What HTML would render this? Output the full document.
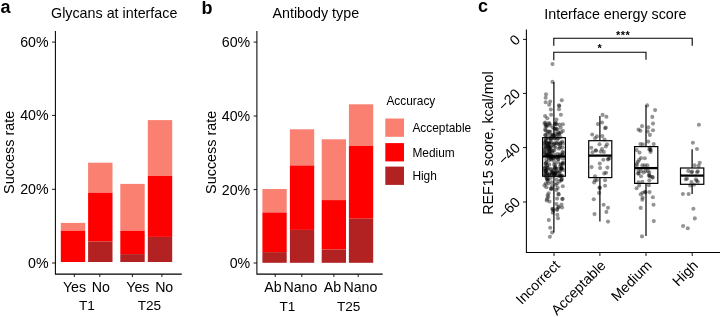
<!DOCTYPE html><html><head><meta charset="utf-8"><title>Figure</title>
<style>html,body{margin:0;padding:0;background:#fff}svg{display:block;will-change:transform}text{font-family:"Liberation Sans",Arial,Helvetica,sans-serif;fill:#000}.t{font-size:14.2px}.ti{font-size:14.3px}.ax{font-size:14.4px}.lg{font-size:11.9px}.st{font-size:13.6px}.pl{font-size:18px;font-weight:bold}.ln{stroke:#000;fill:none}</style></head><body>
<svg width="720" height="317" viewBox="0 0 720 317">
<rect width="720" height="317" fill="#fff"/>
<rect x="60.8" y="222.9" width="24.4" height="7.8" fill="#FA8072"/>
<rect x="60.8" y="230.7" width="24.4" height="31.3" fill="#FF0000"/>
<rect x="88.1" y="162.7" width="24.4" height="30.0" fill="#FA8072"/>
<rect x="88.1" y="192.7" width="24.4" height="48.9" fill="#FF0000"/>
<rect x="88.1" y="241.6" width="24.4" height="20.4" fill="#B22222"/>
<rect x="120.3" y="183.9" width="24.4" height="46.8" fill="#FA8072"/>
<rect x="120.3" y="230.7" width="24.4" height="23.4" fill="#FF0000"/>
<rect x="120.3" y="254.1" width="24.4" height="7.9" fill="#B22222"/>
<rect x="147.8" y="120.1" width="24.4" height="55.9" fill="#FA8072"/>
<rect x="147.8" y="176.0" width="24.4" height="60.9" fill="#FF0000"/>
<rect x="147.8" y="236.9" width="24.4" height="25.1" fill="#B22222"/>
<path class="ln" stroke-width="1.05" d="M55.4 31V274.1H181.8"/>
<path class="ln" stroke-width="0.9" d="M52 42.1H55.4"/>
<path class="ln" stroke-width="0.9" d="M52 115.4H55.4"/>
<path class="ln" stroke-width="0.9" d="M52 189.3H55.4"/>
<path class="ln" stroke-width="0.9" d="M52 263.0H55.4"/>
<path class="ln" stroke-width="0.9" d="M74.3 274V277"/>
<path class="ln" stroke-width="0.9" d="M99.8 274V277"/>
<path class="ln" stroke-width="0.9" d="M132.4 274V277"/>
<path class="ln" stroke-width="0.9" d="M161.9 274V277"/>
<text class="t" x="48.6" y="47.0" text-anchor="end">60%</text>
<text class="t" x="48.6" y="120.3" text-anchor="end">40%</text>
<text class="t" x="48.6" y="194.2" text-anchor="end">20%</text>
<text class="t" x="48.6" y="267.9" text-anchor="end">0%</text>
<text class="t" x="74.5" y="291.8" text-anchor="middle">Yes</text>
<text class="t" x="100.8" y="291.8" text-anchor="middle">No</text>
<text class="t" x="137.8" y="291.8" text-anchor="middle">Yes</text>
<text class="t" x="164.2" y="291.8" text-anchor="middle">No</text>
<text class="st" x="87" y="309.8" text-anchor="middle">T1</text>
<text class="st" x="149.4" y="309.8" text-anchor="middle">T25</text>
<text class="ax" transform="translate(13.9 152.3) rotate(-90)" text-anchor="middle">Success rate</text>
<text class="ti" x="114.2" y="17.9" text-anchor="middle">Glycans at interface</text>
<text class="pl" x="0.5" y="12.5">a</text>
<rect x="262.4" y="189.0" width="24.3" height="23.5" fill="#FA8072"/>
<rect x="262.4" y="212.5" width="24.3" height="39.6" fill="#FF0000"/>
<rect x="262.4" y="252.1" width="24.3" height="10.7" fill="#B22222"/>
<rect x="289.9" y="129.3" width="24.3" height="36.2" fill="#FA8072"/>
<rect x="289.9" y="165.5" width="24.3" height="64.4" fill="#FF0000"/>
<rect x="289.9" y="229.9" width="24.3" height="32.9" fill="#B22222"/>
<rect x="321.7" y="139.3" width="24.3" height="60.8" fill="#FA8072"/>
<rect x="321.7" y="200.1" width="24.3" height="49.5" fill="#FF0000"/>
<rect x="321.7" y="249.6" width="24.3" height="13.2" fill="#B22222"/>
<rect x="348.9" y="104.3" width="24.3" height="41.7" fill="#FA8072"/>
<rect x="348.9" y="146.0" width="24.3" height="72.7" fill="#FF0000"/>
<rect x="348.9" y="218.7" width="24.3" height="44.1" fill="#B22222"/>
<path class="ln" stroke-width="1.05" d="M256.9 31V274.1H382.7"/>
<path class="ln" stroke-width="0.9" d="M253.6 42.1H256.9"/>
<path class="ln" stroke-width="0.9" d="M253.6 116.0H256.9"/>
<path class="ln" stroke-width="0.9" d="M253.6 189.6H256.9"/>
<path class="ln" stroke-width="0.9" d="M253.6 263.0H256.9"/>
<path class="ln" stroke-width="0.9" d="M275.2 274V277"/>
<path class="ln" stroke-width="0.9" d="M301.8 274V277"/>
<path class="ln" stroke-width="0.9" d="M333.9 274V277"/>
<path class="ln" stroke-width="0.9" d="M358.2 274V277"/>
<text class="t" x="250.2" y="47.0" text-anchor="end">60%</text>
<text class="t" x="250.2" y="120.9" text-anchor="end">40%</text>
<text class="t" x="250.2" y="194.5" text-anchor="end">20%</text>
<text class="t" x="250.2" y="267.9" text-anchor="end">0%</text>
<text class="t" x="273.0" y="291.8" text-anchor="middle">Ab</text>
<text class="t" x="300.4" y="291.8" text-anchor="middle">Nano</text>
<text class="t" x="332.4" y="291.8" text-anchor="middle">Ab</text>
<text class="t" x="360.4" y="291.8" text-anchor="middle">Nano</text>
<text class="st" x="287.4" y="311.2" text-anchor="middle">T1</text>
<text class="st" x="348.6" y="311.2" text-anchor="middle">T25</text>
<text class="ax" transform="translate(216 152.3) rotate(-90)" text-anchor="middle">Success rate</text>
<text class="ti" x="315.8" y="17.8" text-anchor="middle">Antibody type</text>
<text class="pl" x="201.5" y="14.2">b</text>
<text class="lg" x="386.4" y="104.6">Accuracy</text>
<rect x="385.3" y="118.5" width="18.7" height="18.3" fill="#FA8072"/>
<text class="lg" x="412.4" y="131.8">Acceptable</text>
<rect x="385.3" y="143.1" width="18.7" height="18.3" fill="#FF0000"/>
<text class="lg" x="412.4" y="156.6">Medium</text>
<rect x="385.3" y="166.6" width="18.7" height="18.3" fill="#B22222"/>
<text class="lg" x="412.4" y="180.0">High</text>
<g fill="#000" fill-opacity="0.42">
<circle cx="552.5" cy="64.1" r="2.05"/>
<circle cx="552.5" cy="81.9" r="2.05"/>
<circle cx="546.0" cy="94.3" r="2.05"/>
<circle cx="545.7" cy="97.8" r="2.05"/>
<circle cx="545.7" cy="102.2" r="2.05"/>
<circle cx="550.2" cy="101.6" r="2.05"/>
<circle cx="549.2" cy="104.7" r="2.05"/>
<circle cx="561.8" cy="100.3" r="2.05"/>
<circle cx="559.0" cy="105.4" r="2.05"/>
<circle cx="559.3" cy="106.0" r="2.05"/>
<circle cx="550.8" cy="109.5" r="2.05"/>
<circle cx="559.0" cy="109.2" r="2.05"/>
<circle cx="551.1" cy="114.8" r="2.05"/>
<circle cx="560.9" cy="114.7" r="2.05"/>
<circle cx="545.1" cy="116.1" r="2.05"/>
<circle cx="547.3" cy="118.3" r="2.05"/>
<circle cx="556.5" cy="119.6" r="2.05"/>
<circle cx="544.5" cy="123.4" r="2.05"/>
<circle cx="545.4" cy="122.5" r="2.05"/>
<circle cx="548.9" cy="123.0" r="2.05"/>
<circle cx="549.5" cy="123.7" r="2.05"/>
<circle cx="555.8" cy="122.7" r="2.05"/>
<circle cx="555.5" cy="123.7" r="2.05"/>
<circle cx="559.6" cy="124.6" r="2.05"/>
<circle cx="547.0" cy="178.7" r="2.05"/>
<circle cx="547.3" cy="179.4" r="2.05"/>
<circle cx="546.7" cy="178.1" r="2.05"/>
<circle cx="561.5" cy="179.7" r="2.05"/>
<circle cx="561.2" cy="180.3" r="2.05"/>
<circle cx="561.8" cy="179.1" r="2.05"/>
<circle cx="550.8" cy="177.8" r="2.05"/>
<circle cx="556.5" cy="179.7" r="2.05"/>
<circle cx="544.5" cy="185.4" r="2.05"/>
<circle cx="562.8" cy="186.3" r="2.05"/>
<circle cx="548.3" cy="183.5" r="2.05"/>
<circle cx="551.4" cy="182.2" r="2.05"/>
<circle cx="557.1" cy="183.5" r="2.05"/>
<circle cx="550.8" cy="188.5" r="2.05"/>
<circle cx="551.1" cy="189.2" r="2.05"/>
<circle cx="557.7" cy="187.9" r="2.05"/>
<circle cx="555.8" cy="184.7" r="2.05"/>
<circle cx="548.6" cy="193.3" r="2.05"/>
<circle cx="547.6" cy="195.2" r="2.05"/>
<circle cx="548.3" cy="197.1" r="2.05"/>
<circle cx="547.0" cy="198.9" r="2.05"/>
<circle cx="546.7" cy="200.5" r="2.05"/>
<circle cx="549.5" cy="201.5" r="2.05"/>
<circle cx="558.4" cy="193.9" r="2.05"/>
<circle cx="558.7" cy="194.4" r="2.05"/>
<circle cx="557.1" cy="198.6" r="2.05"/>
<circle cx="562.6" cy="198.8" r="2.05"/>
<circle cx="562.3" cy="199.1" r="2.05"/>
<circle cx="556.5" cy="204.0" r="2.05"/>
<circle cx="561.5" cy="204.6" r="2.05"/>
<circle cx="558.4" cy="206.8" r="2.05"/>
<circle cx="558.7" cy="207.2" r="2.05"/>
<circle cx="562.1" cy="207.5" r="2.05"/>
<circle cx="557.1" cy="209.0" r="2.05"/>
<circle cx="552.4" cy="208.7" r="2.05"/>
<circle cx="552.7" cy="209.2" r="2.05"/>
<circle cx="553.3" cy="210.6" r="2.05"/>
<circle cx="552.7" cy="212.8" r="2.05"/>
<circle cx="557.4" cy="214.7" r="2.05"/>
<circle cx="558.0" cy="218.2" r="2.05"/>
<circle cx="548.8" cy="220.1" r="2.05"/>
<circle cx="550.2" cy="227.7" r="2.05"/>
<circle cx="557.1" cy="210.0" r="2.05"/>
<circle cx="552.1" cy="232.6" r="2.05"/>
<circle cx="549.9" cy="236.7" r="2.05"/>
<circle cx="550.6" cy="125.6" r="2.05"/>
<circle cx="556.7" cy="124.5" r="2.05"/>
<circle cx="554.6" cy="128.6" r="2.05"/>
<circle cx="545.6" cy="130.6" r="2.05"/>
<circle cx="545.2" cy="129.6" r="2.05"/>
<circle cx="545.8" cy="124.8" r="2.05"/>
<circle cx="552.5" cy="135.1" r="2.05"/>
<circle cx="546.8" cy="126.6" r="2.05"/>
<circle cx="556.3" cy="136.8" r="2.05"/>
<circle cx="555.3" cy="129.1" r="2.05"/>
<circle cx="562.9" cy="124.2" r="2.05"/>
<circle cx="560.6" cy="127.6" r="2.05"/>
<circle cx="547.2" cy="125.1" r="2.05"/>
<circle cx="550.3" cy="134.9" r="2.05"/>
<circle cx="547.9" cy="131.6" r="2.05"/>
<circle cx="556.5" cy="128.7" r="2.05"/>
<circle cx="554.8" cy="124.4" r="2.05"/>
<circle cx="545.6" cy="126.4" r="2.05"/>
<circle cx="557.3" cy="129.5" r="2.05"/>
<circle cx="550.4" cy="131.7" r="2.05"/>
<circle cx="553.0" cy="127.7" r="2.05"/>
<circle cx="559.4" cy="133.3" r="2.05"/>
<circle cx="549.1" cy="131.5" r="2.05"/>
<circle cx="554.4" cy="135.8" r="2.05"/>
<circle cx="558.2" cy="132.2" r="2.05"/>
<circle cx="562.9" cy="130.9" r="2.05"/>
<circle cx="552.4" cy="135.7" r="2.05"/>
<circle cx="547.4" cy="133.7" r="2.05"/>
<circle cx="545.2" cy="135.0" r="2.05"/>
<circle cx="558.9" cy="134.3" r="2.05"/>
<circle cx="561.0" cy="132.4" r="2.05"/>
<circle cx="557.6" cy="134.5" r="2.05"/>
<circle cx="555.4" cy="133.4" r="2.05"/>
<circle cx="560.3" cy="137.1" r="2.05"/>
<circle cx="553.4" cy="135.0" r="2.05"/>
<circle cx="545.6" cy="135.3" r="2.05"/>
<circle cx="556.4" cy="189.9" r="2.05"/>
<circle cx="559.4" cy="181.4" r="2.05"/>
<circle cx="552.0" cy="186.0" r="2.05"/>
<circle cx="545.8" cy="183.5" r="2.05"/>
<circle cx="548.3" cy="179.4" r="2.05"/>
<circle cx="546.4" cy="187.2" r="2.05"/>
<circle cx="547.6" cy="181.0" r="2.05"/>
<circle cx="552.0" cy="188.5" r="2.05"/>
<circle cx="545.8" cy="155.0" r="2.05"/>
<circle cx="554.8" cy="172.0" r="2.05"/>
<circle cx="560.0" cy="171.2" r="2.05"/>
<circle cx="549.6" cy="153.7" r="2.05"/>
<circle cx="551.2" cy="172.0" r="2.05"/>
<circle cx="562.7" cy="143.4" r="2.05"/>
<circle cx="547.7" cy="146.5" r="2.05"/>
<circle cx="548.8" cy="156.4" r="2.05"/>
<circle cx="555.6" cy="147.7" r="2.05"/>
<circle cx="544.4" cy="153.8" r="2.05"/>
<circle cx="551.4" cy="159.6" r="2.05"/>
<circle cx="562.6" cy="164.4" r="2.05"/>
<circle cx="554.2" cy="161.6" r="2.05"/>
<circle cx="557.3" cy="139.6" r="2.05"/>
<circle cx="561.6" cy="167.9" r="2.05"/>
<circle cx="561.1" cy="168.6" r="2.05"/>
<circle cx="551.8" cy="153.1" r="2.05"/>
<circle cx="546.3" cy="162.2" r="2.05"/>
<circle cx="545.5" cy="140.1" r="2.05"/>
<circle cx="548.3" cy="143.8" r="2.05"/>
<circle cx="550.8" cy="139.6" r="2.05"/>
<circle cx="544.3" cy="143.4" r="2.05"/>
<circle cx="546.2" cy="151.7" r="2.05"/>
<circle cx="544.8" cy="171.6" r="2.05"/>
<circle cx="556.1" cy="143.3" r="2.05"/>
<circle cx="549.1" cy="151.0" r="2.05"/>
<circle cx="551.3" cy="142.3" r="2.05"/>
<circle cx="560.6" cy="176.2" r="2.05"/>
<circle cx="553.2" cy="156.4" r="2.05"/>
<circle cx="545.9" cy="141.5" r="2.05"/>
<circle cx="550.9" cy="147.8" r="2.05"/>
<circle cx="560.2" cy="143.8" r="2.05"/>
<circle cx="544.7" cy="174.6" r="2.05"/>
<circle cx="554.4" cy="143.2" r="2.05"/>
<circle cx="554.7" cy="138.6" r="2.05"/>
<circle cx="554.4" cy="175.7" r="2.05"/>
<circle cx="560.9" cy="164.7" r="2.05"/>
<circle cx="549.3" cy="151.8" r="2.05"/>
<circle cx="547.5" cy="167.6" r="2.05"/>
<circle cx="554.5" cy="167.9" r="2.05"/>
<circle cx="550.6" cy="146.2" r="2.05"/>
<circle cx="559.9" cy="175.9" r="2.05"/>
<circle cx="560.7" cy="168.9" r="2.05"/>
<circle cx="560.0" cy="166.4" r="2.05"/>
<circle cx="548.7" cy="157.7" r="2.05"/>
<circle cx="551.1" cy="138.6" r="2.05"/>
<circle cx="544.8" cy="148.4" r="2.05"/>
<circle cx="549.3" cy="164.5" r="2.05"/>
<circle cx="562.7" cy="154.9" r="2.05"/>
<circle cx="562.3" cy="176.0" r="2.05"/>
<circle cx="562.6" cy="151.7" r="2.05"/>
<circle cx="548.5" cy="146.3" r="2.05"/>
<circle cx="548.1" cy="145.5" r="2.05"/>
<circle cx="556.3" cy="172.6" r="2.05"/>
<circle cx="560.4" cy="156.2" r="2.05"/>
<circle cx="556.8" cy="168.7" r="2.05"/>
<circle cx="545.9" cy="163.3" r="2.05"/>
<circle cx="561.8" cy="168.0" r="2.05"/>
<circle cx="558.7" cy="156.1" r="2.05"/>
<circle cx="547.7" cy="168.3" r="2.05"/>
<circle cx="550.7" cy="168.7" r="2.05"/>
<circle cx="563.0" cy="152.9" r="2.05"/>
<circle cx="552.0" cy="174.4" r="2.05"/>
<circle cx="558.2" cy="144.1" r="2.05"/>
<circle cx="546.7" cy="143.4" r="2.05"/>
<circle cx="561.7" cy="169.0" r="2.05"/>
<circle cx="547.1" cy="169.7" r="2.05"/>
<circle cx="563.1" cy="163.1" r="2.05"/>
<circle cx="551.0" cy="158.9" r="2.05"/>
<circle cx="546.8" cy="138.1" r="2.05"/>
<circle cx="562.9" cy="162.8" r="2.05"/>
<circle cx="554.4" cy="173.9" r="2.05"/>
<circle cx="552.6" cy="171.5" r="2.05"/>
<circle cx="560.2" cy="145.7" r="2.05"/>
<circle cx="549.1" cy="148.9" r="2.05"/>
<circle cx="548.9" cy="160.4" r="2.05"/>
<circle cx="549.3" cy="153.8" r="2.05"/>
<circle cx="546.8" cy="173.0" r="2.05"/>
<circle cx="551.1" cy="155.4" r="2.05"/>
<circle cx="555.5" cy="172.8" r="2.05"/>
<circle cx="552.4" cy="173.3" r="2.05"/>
<circle cx="553.9" cy="158.2" r="2.05"/>
<circle cx="554.4" cy="138.2" r="2.05"/>
<circle cx="552.8" cy="144.6" r="2.05"/>
<circle cx="544.4" cy="168.7" r="2.05"/>
<circle cx="547.6" cy="156.0" r="2.05"/>
<circle cx="558.2" cy="159.2" r="2.05"/>
<circle cx="550.6" cy="157.7" r="2.05"/>
<circle cx="555.0" cy="168.1" r="2.05"/>
<circle cx="546.3" cy="159.4" r="2.05"/>
<circle cx="549.1" cy="148.3" r="2.05"/>
<circle cx="559.1" cy="157.3" r="2.05"/>
<circle cx="555.1" cy="167.1" r="2.05"/>
<circle cx="561.8" cy="154.8" r="2.05"/>
<circle cx="556.1" cy="157.2" r="2.05"/>
<circle cx="554.1" cy="164.5" r="2.05"/>
<circle cx="553.0" cy="158.3" r="2.05"/>
<circle cx="553.5" cy="174.2" r="2.05"/>
<circle cx="557.7" cy="171.7" r="2.05"/>
<circle cx="562.4" cy="147.6" r="2.05"/>
<circle cx="555.0" cy="174.3" r="2.05"/>
<circle cx="560.4" cy="142.8" r="2.05"/>
<circle cx="546.6" cy="154.7" r="2.05"/>
<circle cx="545.7" cy="146.9" r="2.05"/>
<circle cx="545.7" cy="163.6" r="2.05"/>
<circle cx="559.4" cy="172.5" r="2.05"/>
<circle cx="547.3" cy="165.4" r="2.05"/>
<circle cx="557.0" cy="143.1" r="2.05"/>
<circle cx="561.3" cy="175.2" r="2.05"/>
<circle cx="548.5" cy="174.6" r="2.05"/>
<circle cx="551.9" cy="156.5" r="2.05"/>
<circle cx="563.3" cy="170.0" r="2.05"/>
<circle cx="547.4" cy="154.3" r="2.05"/>
<circle cx="554.2" cy="150.7" r="2.05"/>
<circle cx="548.1" cy="149.9" r="2.05"/>
<circle cx="558.2" cy="138.3" r="2.05"/>
<circle cx="554.9" cy="154.7" r="2.05"/>
<circle cx="544.6" cy="150.4" r="2.05"/>
<circle cx="556.3" cy="157.5" r="2.05"/>
<circle cx="545.5" cy="175.9" r="2.05"/>
<circle cx="559.4" cy="175.4" r="2.05"/>
<circle cx="546.3" cy="147.9" r="2.05"/>
<circle cx="545.1" cy="167.9" r="2.05"/>
<circle cx="549.5" cy="142.6" r="2.05"/>
<circle cx="552.4" cy="173.0" r="2.05"/>
<circle cx="560.0" cy="147.6" r="2.05"/>
<circle cx="547.2" cy="173.3" r="2.05"/>
<circle cx="555.3" cy="164.8" r="2.05"/>
<circle cx="546.0" cy="139.7" r="2.05"/>
<circle cx="557.5" cy="154.1" r="2.05"/>
<circle cx="545.7" cy="174.1" r="2.05"/>
<circle cx="556.5" cy="168.8" r="2.05"/>
<circle cx="545.9" cy="170.9" r="2.05"/>
<circle cx="545.6" cy="171.1" r="2.05"/>
<circle cx="553.0" cy="150.7" r="2.05"/>
<circle cx="554.9" cy="173.6" r="2.05"/>
<circle cx="549.4" cy="142.5" r="2.05"/>
<circle cx="554.4" cy="146.8" r="2.05"/>
<circle cx="546.4" cy="143.8" r="2.05"/>
<circle cx="545.3" cy="145.4" r="2.05"/>
<circle cx="550.3" cy="149.4" r="2.05"/>
<circle cx="558.9" cy="148.8" r="2.05"/>
<circle cx="553.9" cy="144.4" r="2.05"/>
<circle cx="551.0" cy="138.2" r="2.05"/>
<circle cx="549.1" cy="138.1" r="2.05"/>
<circle cx="558.4" cy="159.0" r="2.05"/>
<circle cx="547.9" cy="156.0" r="2.05"/>
<circle cx="562.2" cy="141.6" r="2.05"/>
<circle cx="560.0" cy="154.4" r="2.05"/>
<circle cx="553.8" cy="170.0" r="2.05"/>
<circle cx="551.8" cy="157.3" r="2.05"/>
<circle cx="557.5" cy="175.8" r="2.05"/>
<circle cx="550.9" cy="170.0" r="2.05"/>
<circle cx="557.9" cy="162.3" r="2.05"/>
<circle cx="552.1" cy="151.1" r="2.05"/>
<circle cx="545.3" cy="142.6" r="2.05"/>
<circle cx="545.7" cy="166.4" r="2.05"/>
<circle cx="549.2" cy="143.9" r="2.05"/>
<circle cx="545.9" cy="170.3" r="2.05"/>
<circle cx="561.0" cy="163.7" r="2.05"/>
<circle cx="549.7" cy="146.9" r="2.05"/>
<circle cx="549.9" cy="155.4" r="2.05"/>
<circle cx="547.3" cy="154.9" r="2.05"/>
<circle cx="549.4" cy="175.0" r="2.05"/>
<circle cx="563.0" cy="158.8" r="2.05"/>
<circle cx="549.0" cy="175.2" r="2.05"/>
<circle cx="550.2" cy="151.4" r="2.05"/>
<circle cx="544.3" cy="152.4" r="2.05"/>
<circle cx="602.6" cy="114.9" r="2.05"/>
<circle cx="606.4" cy="116.8" r="2.05"/>
<circle cx="602.0" cy="122.5" r="2.05"/>
<circle cx="597.9" cy="124.1" r="2.05"/>
<circle cx="605.8" cy="127.6" r="2.05"/>
<circle cx="605.1" cy="128.2" r="2.05"/>
<circle cx="592.2" cy="134.5" r="2.05"/>
<circle cx="596.9" cy="136.4" r="2.05"/>
<circle cx="602.3" cy="136.1" r="2.05"/>
<circle cx="595.0" cy="138.3" r="2.05"/>
<circle cx="604.5" cy="139.6" r="2.05"/>
<circle cx="599.5" cy="144.3" r="2.05"/>
<circle cx="607.0" cy="144.3" r="2.05"/>
<circle cx="605.8" cy="146.5" r="2.05"/>
<circle cx="591.3" cy="147.8" r="2.05"/>
<circle cx="595.7" cy="150.3" r="2.05"/>
<circle cx="596.0" cy="150.8" r="2.05"/>
<circle cx="602.0" cy="149.1" r="2.05"/>
<circle cx="600.7" cy="151.6" r="2.05"/>
<circle cx="603.9" cy="151.9" r="2.05"/>
<circle cx="592.5" cy="152.2" r="2.05"/>
<circle cx="603.3" cy="159.8" r="2.05"/>
<circle cx="608.3" cy="158.8" r="2.05"/>
<circle cx="608.0" cy="159.5" r="2.05"/>
<circle cx="599.8" cy="163.6" r="2.05"/>
<circle cx="609.6" cy="157.9" r="2.05"/>
<circle cx="591.6" cy="167.1" r="2.05"/>
<circle cx="600.1" cy="168.0" r="2.05"/>
<circle cx="607.4" cy="167.6" r="2.05"/>
<circle cx="604.2" cy="173.4" r="2.05"/>
<circle cx="606.1" cy="172.7" r="2.05"/>
<circle cx="595.0" cy="176.2" r="2.05"/>
<circle cx="595.0" cy="180.3" r="2.05"/>
<circle cx="596.9" cy="180.0" r="2.05"/>
<circle cx="605.1" cy="180.3" r="2.05"/>
<circle cx="594.1" cy="182.5" r="2.05"/>
<circle cx="605.1" cy="185.7" r="2.05"/>
<circle cx="599.5" cy="187.6" r="2.05"/>
<circle cx="599.8" cy="187.9" r="2.05"/>
<circle cx="599.1" cy="192.9" r="2.05"/>
<circle cx="593.8" cy="199.3" r="2.05"/>
<circle cx="603.6" cy="204.8" r="2.05"/>
<circle cx="608.0" cy="207.8" r="2.05"/>
<circle cx="606.4" cy="211.9" r="2.05"/>
<circle cx="594.5" cy="214.1" r="2.05"/>
<circle cx="608.0" cy="221.6" r="2.05"/>
<circle cx="647.2" cy="105.4" r="2.05"/>
<circle cx="655.1" cy="110.1" r="2.05"/>
<circle cx="652.3" cy="116.9" r="2.05"/>
<circle cx="653.0" cy="123.6" r="2.05"/>
<circle cx="642.0" cy="126.1" r="2.05"/>
<circle cx="648.3" cy="127.4" r="2.05"/>
<circle cx="638.5" cy="129.6" r="2.05"/>
<circle cx="640.4" cy="130.8" r="2.05"/>
<circle cx="653.0" cy="130.2" r="2.05"/>
<circle cx="647.7" cy="131.5" r="2.05"/>
<circle cx="649.9" cy="134.9" r="2.05"/>
<circle cx="648.3" cy="141.6" r="2.05"/>
<circle cx="640.4" cy="144.1" r="2.05"/>
<circle cx="642.9" cy="144.4" r="2.05"/>
<circle cx="653.7" cy="144.1" r="2.05"/>
<circle cx="649.9" cy="147.6" r="2.05"/>
<circle cx="650.2" cy="149.8" r="2.05"/>
<circle cx="649.3" cy="149.2" r="2.05"/>
<circle cx="650.8" cy="150.1" r="2.05"/>
<circle cx="636.6" cy="150.1" r="2.05"/>
<circle cx="639.5" cy="152.6" r="2.05"/>
<circle cx="650.5" cy="152.0" r="2.05"/>
<circle cx="644.8" cy="158.3" r="2.05"/>
<circle cx="641.0" cy="158.0" r="2.05"/>
<circle cx="639.2" cy="159.9" r="2.05"/>
<circle cx="637.9" cy="161.8" r="2.05"/>
<circle cx="636.9" cy="163.7" r="2.05"/>
<circle cx="636.6" cy="165.6" r="2.05"/>
<circle cx="642.3" cy="165.3" r="2.05"/>
<circle cx="644.8" cy="165.3" r="2.05"/>
<circle cx="647.4" cy="165.4" r="2.05"/>
<circle cx="638.5" cy="170.9" r="2.05"/>
<circle cx="641.0" cy="170.9" r="2.05"/>
<circle cx="645.5" cy="170.9" r="2.05"/>
<circle cx="648.0" cy="170.9" r="2.05"/>
<circle cx="638.5" cy="173.2" r="2.05"/>
<circle cx="638.2" cy="173.8" r="2.05"/>
<circle cx="643.6" cy="172.5" r="2.05"/>
<circle cx="641.0" cy="176.3" r="2.05"/>
<circle cx="649.3" cy="172.5" r="2.05"/>
<circle cx="649.3" cy="175.7" r="2.05"/>
<circle cx="648.9" cy="175.1" r="2.05"/>
<circle cx="649.9" cy="176.3" r="2.05"/>
<circle cx="652.4" cy="176.9" r="2.05"/>
<circle cx="652.7" cy="177.6" r="2.05"/>
<circle cx="649.3" cy="180.4" r="2.05"/>
<circle cx="642.3" cy="181.7" r="2.05"/>
<circle cx="638.5" cy="182.3" r="2.05"/>
<circle cx="639.2" cy="185.5" r="2.05"/>
<circle cx="636.6" cy="188.3" r="2.05"/>
<circle cx="648.9" cy="185.2" r="2.05"/>
<circle cx="645.1" cy="191.8" r="2.05"/>
<circle cx="645.5" cy="192.4" r="2.05"/>
<circle cx="640.7" cy="194.3" r="2.05"/>
<circle cx="642.6" cy="192.7" r="2.05"/>
<circle cx="649.6" cy="192.1" r="2.05"/>
<circle cx="642.3" cy="199.7" r="2.05"/>
<circle cx="642.6" cy="197.5" r="2.05"/>
<circle cx="652.9" cy="197.2" r="2.05"/>
<circle cx="653.5" cy="204.7" r="2.05"/>
<circle cx="640.7" cy="207.9" r="2.05"/>
<circle cx="653.8" cy="221.1" r="2.05"/>
<circle cx="642.0" cy="236.4" r="2.05"/>
<circle cx="698.9" cy="124.8" r="2.05"/>
<circle cx="692.9" cy="142.8" r="2.05"/>
<circle cx="697.0" cy="149.0" r="2.05"/>
<circle cx="699.7" cy="162.7" r="2.05"/>
<circle cx="694.6" cy="165.3" r="2.05"/>
<circle cx="698.7" cy="165.9" r="2.05"/>
<circle cx="688.3" cy="170.9" r="2.05"/>
<circle cx="692.1" cy="171.6" r="2.05"/>
<circle cx="691.5" cy="172.2" r="2.05"/>
<circle cx="697.8" cy="171.3" r="2.05"/>
<circle cx="697.1" cy="172.2" r="2.05"/>
<circle cx="695.9" cy="179.2" r="2.05"/>
<circle cx="696.5" cy="180.7" r="2.05"/>
<circle cx="691.5" cy="182.0" r="2.05"/>
<circle cx="697.8" cy="181.7" r="2.05"/>
<circle cx="685.8" cy="179.2" r="2.05"/>
<circle cx="687.0" cy="178.8" r="2.05"/>
<circle cx="690.2" cy="185.5" r="2.05"/>
<circle cx="694.0" cy="184.8" r="2.05"/>
<circle cx="682.9" cy="194.0" r="2.05"/>
<circle cx="688.6" cy="194.0" r="2.05"/>
<circle cx="693.4" cy="208.8" r="2.05"/>
<circle cx="694.8" cy="218.4" r="2.05"/>
<circle cx="683.1" cy="226.0" r="2.05"/>
<circle cx="687.8" cy="228.3" r="2.05"/>
</g>
<path class="ln" stroke-width="1.2" d="M553.9 82.1V137.7M553.9 176.2V232.5"/>
<rect class="ln" stroke-width="1.2" x="542.6" y="137.7" width="22.8" height="38.5"/>
<path class="ln" stroke-width="2.3" d="M542.6 156.4H565.4"/>
<path class="ln" stroke-width="1.2" d="M599.9 116.0V140.7M599.9 177.6V221.4"/>
<rect class="ln" stroke-width="1.2" x="588.7" y="140.7" width="23.1" height="36.9"/>
<path class="ln" stroke-width="2.3" d="M588.7 155.6H611.8"/>
<path class="ln" stroke-width="1.2" d="M646.0 105.2V146.6M646.0 183.4V236.0"/>
<rect class="ln" stroke-width="1.2" x="634.6" y="146.6" width="23.2" height="36.8"/>
<path class="ln" stroke-width="2.3" d="M634.6 168.1H657.8"/>
<path class="ln" stroke-width="1.2" d="M692.1 149.3V168.0M692.1 184.3V193.9"/>
<rect class="ln" stroke-width="1.2" x="680.5" y="168.0" width="23.3" height="16.3"/>
<path class="ln" stroke-width="2.3" d="M680.5 175.6H703.8"/>
<path class="ln" stroke-width="1.05" d="M526.4 29.5V252.5H720"/>
<path class="ln" stroke-width="0.9" d="M523 39.4H526.4"/>
<path class="ln" stroke-width="0.9" d="M523 93.4H526.4"/>
<path class="ln" stroke-width="0.9" d="M523 147.6H526.4"/>
<path class="ln" stroke-width="0.9" d="M523 202.0H526.4"/>
<path class="ln" stroke-width="0.9" d="M554.0 252.5V256"/>
<path class="ln" stroke-width="0.9" d="M599.9 252.5V256"/>
<path class="ln" stroke-width="0.9" d="M646.0 252.5V256"/>
<path class="ln" stroke-width="0.9" d="M692.2 252.5V256"/>
<text class="t" transform="translate(521 40.6) rotate(-45)" text-anchor="end">0</text>
<text class="t" transform="translate(521 94.6) rotate(-45)" text-anchor="end">−20</text>
<text class="t" transform="translate(521 148.8) rotate(-45)" text-anchor="end">−40</text>
<text class="t" transform="translate(521 203.2) rotate(-45)" text-anchor="end">−60</text>
<text class="t" transform="translate(560.7 266.3) rotate(-45)" text-anchor="end">Incorrect</text>
<text class="t" transform="translate(606.6 266.3) rotate(-45)" text-anchor="end">Acceptable</text>
<text class="t" transform="translate(652.7 266.3) rotate(-45)" text-anchor="end">Medium</text>
<text class="t" transform="translate(698.9 266.3) rotate(-45)" text-anchor="end">High</text>
<text class="ax" style="font-size:14.25px" transform="translate(493.4 143) rotate(-90)" text-anchor="middle">REF15 score, kcal/mol</text>
<text class="ti" x="615.4" y="18.5" text-anchor="middle">Interface energy score</text>
<text class="pl" x="478.1" y="11.7">c</text>
<path class="ln" stroke-width="1.1" d="M553.8 45.8V38.2H692.2V45.8"/>
<path class="ln" stroke-width="1.1" d="M553.8 60.2V52.2H646V59.8"/>
<text class="t" x="623.1" y="39.1" text-anchor="middle" style="font-size:11px;font-weight:bold;letter-spacing:0.4px">***</text>
<text class="t" x="599.6" y="52.2" text-anchor="middle" style="font-size:11px;font-weight:bold">*</text>
</svg></body></html>
